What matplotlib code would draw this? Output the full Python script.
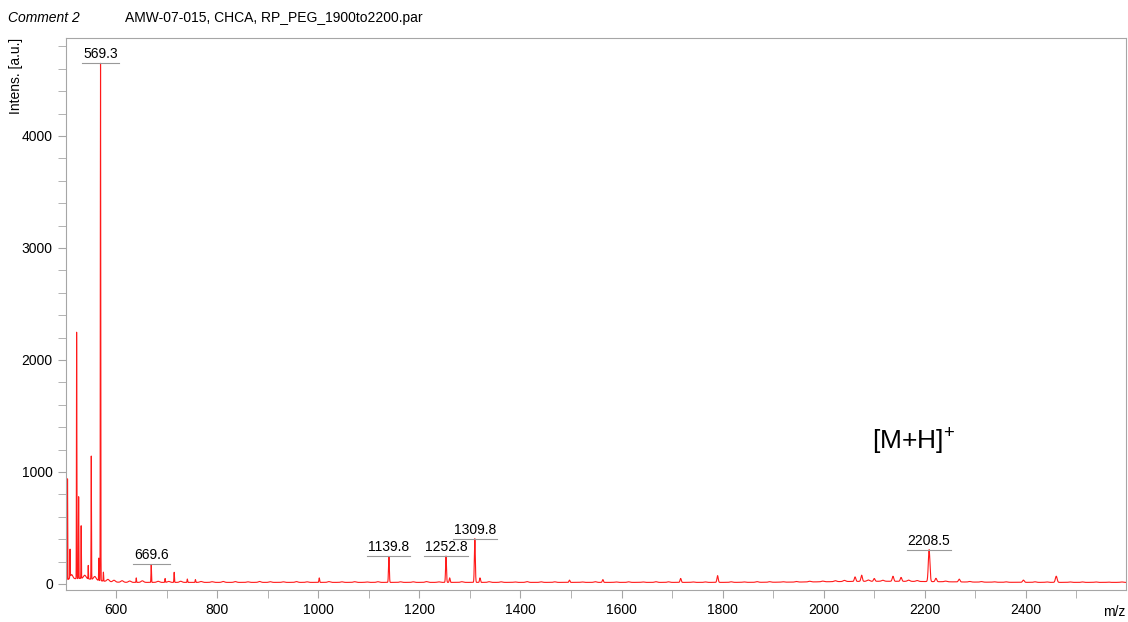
import numpy as np
import matplotlib
matplotlib.use("Agg")
import matplotlib.pyplot as plt

plt.rcParams['font.family'] = ['Liberation Sans', 'DejaVu Sans']
plt.rcParams['mathtext.fontset'] = 'custom'
plt.rcParams['mathtext.rm'] = 'Liberation Sans'

# main peaks (m/z, intensity)
peak_mz = [504, 509, 522, 526, 531, 545, 551, 566, 569.3, 575,
           640, 669.6, 697, 715, 741, 757, 1002, 1139.8, 1252.8, 1260,
           1309.8, 1320, 1497, 1563, 1717, 1790, 2062, 2075, 2100, 2137,
           2153, 2208.5, 2222, 2268, 2395, 2460]
peak_int = [900, 250, 2200, 730, 470, 120, 1100, 200, 4620, 80,
            40, 160, 35, 90, 30, 25, 40, 232, 235, 40,
            390, 40, 20, 25, 35, 60, 40, 55, 25, 45,
            35, 285, 30, 25, 20, 55]

# small baseline wiggles
noise_mz = [512, 538, 558, 584, 596, 612, 627, 652, 683, 704, 728, 768, 790, 812,
            836, 861, 884, 905, 931, 957, 978, 1021, 1047, 1072, 1096, 1118, 1163,
            1188, 1214, 1238, 1284, 1338, 1362, 1389, 1413, 1441, 1468, 1522, 1548,
            1589, 1614, 1642, 1668, 1693, 1741, 1766, 1817, 1842, 1868, 1893, 1919,
            1946, 1972, 1998, 2023, 2041, 2088, 2117, 2168, 2185, 2241, 2289, 2312,
            2337, 2361, 2418, 2441, 2487, 2512, 2538, 2563, 2589]
noise_int = [40, 30, 30, 20, 16, 14, 12, 14, 10, 9, 10, 8, 6, 8,
             7, 5, 8, 6, 5, 7, 5, 7, 5, 6, 4, 6, 5,
             5, 7, 5, 6, 6, 5, 4, 7, 5, 5, 4, 6,
             4, 5, 4, 6, 5, 4, 4, 5, 4, 6, 5, 4,
             5, 6, 6, 8, 10, 12, 9, 11, 8, 6, 5, 5,
             4, 4, 5, 4, 4, 4, 4, 3, 4]

# broad background components (m/z, height, width)
bg_mz = [530, 2120]
bg_int = [35, 10]
bg_w = [30, 110]
base_level = 14

labels_mz = [569.3, 669.6, 1139.8, 1252.8, 1309.8, 2208.5]
labels_txt = ['569.3', '669.6', '1139.8', '1252.8', '1309.8', '2208.5']

mz = np.arange(500, 2600, 0.05)
spec = np.full_like(mz, base_level, dtype=float)
for c, h in zip(peak_mz, peak_int):
    s = c * 0.0007
    spec += h * np.exp(-0.5 * ((mz - c) / s) ** 2)
for c, h in zip(noise_mz, noise_int):
    spec += h * np.exp(-0.5 * ((mz - c) / 2.5) ** 2)
for c, h, w in zip(bg_mz, bg_int, bg_w):
    spec += h * np.exp(-0.5 * ((mz - c) / w) ** 2)

fig = plt.figure(figsize=(11.28, 6.22), dpi=100)
ax = fig.add_axes([66 / 1128, 1 - 590 / 622, 1060 / 1128, 552 / 622])
ax.plot(mz, spec, color='#ff1a1a', lw=0.8)

ax.set_xlim(501, 2598)
ax.set_ylim(-54, 4875)
ax.set_xticks(np.arange(600, 2600, 200))
ax.set_xticks(np.arange(600, 2600, 100), minor=True)
ax.set_yticks(np.arange(0, 5000, 1000))
ax.set_yticks(np.arange(0, 4900, 200), minor=True)

grey = '#a6a6a6'
for sp in ax.spines.values():
    sp.set_color(grey)
ax.tick_params(which='both', colors=grey, labelcolor='black', labelsize=10)
ax.tick_params(which='major', length=6)
ax.tick_params(which='minor', length=6)

fig.text(8 / 1128, 1 - 18 / 622, 'Comment 2', style='italic', fontsize=10, va='center')
fig.text(125 / 1128, 1 - 18 / 622, 'AMW-07-015, CHCA, RP_PEG_1900to2200.par', fontsize=10, va='center')
fig.text(16 / 1128, 1 - 38 / 622, 'Intens. [a.u.]', rotation=90, fontsize=10, ha='center', va='top')
fig.text(1125 / 1128, 1 - 612 / 622, 'm/z', fontsize=10, ha='right', va='center')
fig.text(872 / 1128, 1 - 440 / 622, '[M+H]$^{+}$', fontsize=19, va='center')

# peak labels with underline
texts = []
for m, t in zip(labels_mz, labels_txt):
    h = spec[np.argmin(np.abs(mz - m))]
    txt = ax.annotate(t, (m, h), xytext=(0, 1.5), textcoords='offset points',
                      ha='center', va='bottom', fontsize=10)
    texts.append((txt, h))

fig.canvas.draw()
inv = ax.transData.inverted()
for txt, h in texts:
    bb = txt.get_window_extent()
    x0 = inv.transform((bb.x0 - 1, 0))[0]
    x1 = inv.transform((bb.x1 + 1, 0))[0]
    ax.plot([x0, x1], [h, h], color='#999999', lw=0.8)

fig.savefig('out.png', dpi=100)
